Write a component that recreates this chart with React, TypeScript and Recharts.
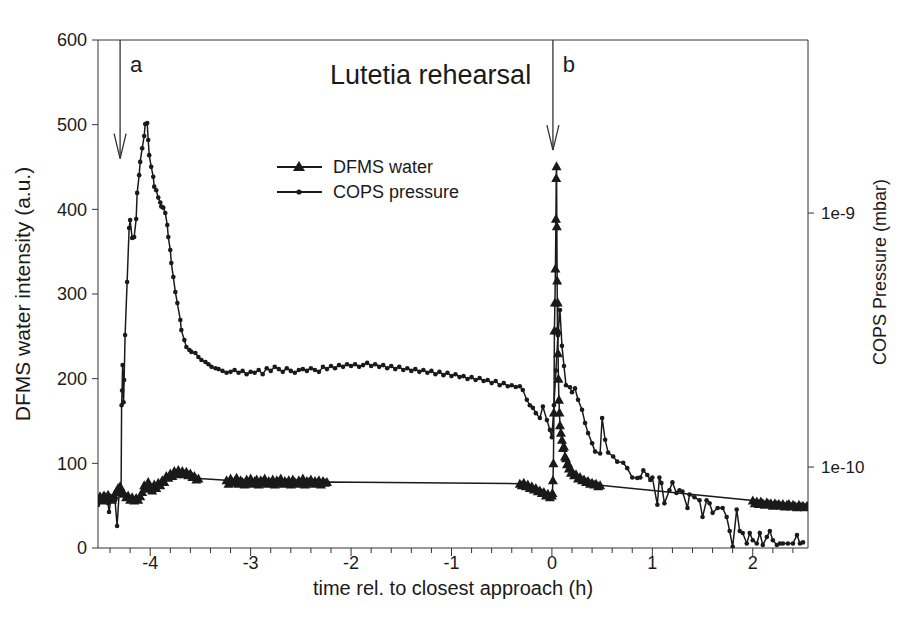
import React from 'react';
import { LineChart, Line, XAxis, YAxis, ReferenceLine } from 'recharts';

// DFMS water signal (left axis, a.u.)
const dfmsTime = [
  -4.52, -4.50, -4.48, -4.46, -4.44, -4.42, -4.40, -4.38, -4.36, -4.34, -4.32, -4.30, -4.28, -4.26, -4.24, -4.22,
  -4.20, -4.18, -4.16, -4.14, -4.12, -4.10, -4.08, -4.06, -4.04, -4.02, -4.00, -3.98, -3.96, -3.94, -3.92, -3.90,
  -3.88, -3.86, -3.84, -3.82, -3.80, -3.78, -3.76, -3.74, -3.72, -3.70, -3.68, -3.66, -3.64, -3.62, -3.60, -3.58,
  -3.56, -3.54, -3.52,
  -3.24, -3.22, -3.20, -3.18, -3.16, -3.14, -3.12, -3.10, -3.08, -3.06, -3.04, -3.02, -3.00, -2.98, -2.96, -2.94,
  -2.92, -2.90, -2.88, -2.86, -2.84, -2.82, -2.80, -2.78, -2.76, -2.74, -2.72, -2.70, -2.68, -2.66, -2.64, -2.62,
  -2.60, -2.58, -2.56, -2.54, -2.52, -2.50, -2.48, -2.46, -2.44, -2.42, -2.40, -2.38, -2.36, -2.34, -2.32, -2.30,
  -2.28, -2.26, -2.24,
  -0.32, -0.30, -0.28, -0.26, -0.24, -0.22, -0.20, -0.18, -0.16, -0.14, -0.12, -0.10, -0.08, -0.06, -0.04, -0.02, 0.00,
  0.005, 0.01, 0.015, 0.02, 0.025, 0.03, 0.035, 0.04, 0.043, 0.046, 0.049, 0.052, 0.055, 0.058, 0.061, 0.065,
  0.07, 0.075, 0.08, 0.09, 0.10, 0.11, 0.12, 0.13, 0.14, 0.15, 0.16, 0.17, 0.18, 0.19, 0.20, 0.22, 0.24, 0.26,
  0.28, 0.30, 0.32, 0.34, 0.36, 0.38, 0.40, 0.42, 0.44, 0.46, 0.48,
  2.00, 2.02, 2.04, 2.06, 2.08, 2.10, 2.12, 2.14, 2.16, 2.18, 2.20, 2.22, 2.24, 2.26, 2.28, 2.30, 2.32, 2.34,
  2.36, 2.38, 2.40, 2.42, 2.44, 2.46, 2.48, 2.50, 2.52, 2.54,
];
const dfmsWater = [
  58, 61, 56, 62, 58, 63, 59, 57, 62, 66, 71, 73, 67, 64, 60, 62, 57, 60, 56, 59, 57, 61,
  66, 74, 70, 78, 73, 68, 75, 71, 77, 74, 80, 78, 85, 83, 88, 85, 91, 87, 92, 88, 91, 87, 90, 86, 88, 84, 85, 81, 82,
  80, 76, 82, 77, 79, 83, 76, 80, 78, 75, 81, 77, 82, 76, 79, 81, 75, 80, 78, 82,
  76, 79, 77, 81, 75, 80, 78, 82, 76, 79, 77, 80, 75, 81, 78, 76, 80, 77, 82, 75,
  79, 78, 81, 76, 79, 77, 80, 75, 79, 77, 78,
  76, 74, 77, 73, 75, 71, 73, 69, 71, 67, 68, 65, 66, 62, 64, 60, 62,
  65, 80, 100, 160, 257, 290, 330, 389, 437, 451, 380, 316, 257, 290, 230, 200,
  175, 160, 145, 136, 128, 118, 120, 108, 106, 99, 100, 94, 95, 89, 90, 86, 87, 82,
  84, 80, 81, 78, 79, 76, 77, 75, 76, 73, 74,
  56, 53, 55, 52, 55, 53, 51, 54, 52, 53, 50, 53, 51, 52, 50, 52, 49, 51,
  52, 49, 51, 50, 48, 51, 49, 50, 48, 50,
];

// COPS pressure (right axis, mbar)
const copsTime = [
  -4.52, -4.50, -4.48, -4.46, -4.44, -4.42, -4.41, -4.39, -4.37, -4.35, -4.33, -4.31, -4.29,
  -4.285, -4.28, -4.275, -4.265, -4.26, -4.25, -4.23, -4.21, -4.20, -4.18, -4.16, -4.14, -4.13, -4.11, -4.10,
  -4.08, -4.06, -4.05, -4.03, -4.02, -4.01, -3.99, -3.97, -3.96, -3.94, -3.92, -3.90, -3.89, -3.87, -3.85,
  -3.83, -3.82, -3.80, -3.79, -3.77, -3.75, -3.73, -3.70, -3.69, -3.66, -3.64, -3.61, -3.59, -3.55, -3.52,
  -3.49, -3.45, -3.42, -3.39, -3.35, -3.32, -3.28, -3.24,
  -3.20, -3.16, -3.12, -3.08, -3.04, -3.00, -2.96, -2.92, -2.88, -2.84, -2.80, -2.76, -2.72, -2.68, -2.64,
  -2.60, -2.56, -2.52, -2.48, -2.44, -2.40, -2.36, -2.32, -2.28, -2.24, -2.20, -2.16, -2.12, -2.08, -2.04,
  -2.00, -1.96, -1.92, -1.88, -1.84, -1.80, -1.76, -1.72, -1.68, -1.64, -1.60, -1.56, -1.52, -1.48, -1.44,
  -1.40, -1.36, -1.32, -1.28, -1.24, -1.20, -1.16, -1.12, -1.08, -1.04, -1.00, -0.96, -0.92, -0.88, -0.84,
  -0.80, -0.76, -0.72, -0.68, -0.64, -0.60, -0.56, -0.52, -0.48, -0.44, -0.40, -0.36, -0.32,
  -0.29, -0.25, -0.22, -0.19, -0.16, -0.12, -0.09, -0.05, -0.02, 0.00,
  0.02, 0.04, 0.06, 0.08, 0.10, 0.12, 0.14, 0.18, 0.20, 0.23, 0.26, 0.30, 0.33, 0.36, 0.40, 0.43, 0.48,
  0.50, 0.53, 0.56, 0.61, 0.65, 0.71, 0.75, 0.80, 0.85, 0.88, 0.91, 0.95, 0.98, 1.00, 1.05, 1.07, 1.09,
  1.12, 1.17, 1.20, 1.24, 1.27, 1.30, 1.35, 1.37, 1.42, 1.47, 1.50, 1.54, 1.57, 1.60, 1.65, 1.70, 1.74,
  1.77, 1.80, 1.84, 1.87, 1.90, 1.94, 1.97, 2.00, 2.04, 2.07, 2.10, 2.14, 2.17, 2.20, 2.24, 2.27, 2.30,
  2.35, 2.40, 2.44, 2.47, 2.50,
];
const copsPressure = [
  7.09e-11, 7.6e-11, 7.4e-11, 7.8e-11, 7.55e-11, 7.2e-11, 6.65e-11, 7.55e-11, 7.7e-11, 7.4e-11, 5.86e-11, 7.8e-11, 7.97e-11,
  1.75e-10, 2.0e-10, 2.52e-10, 1.8e-10, 2.2e-10, 3.31e-10, 5.35e-10, 8.73e-10, 9.38e-10, 7.97e-10, 8.04e-10, 9.47e-10, 1.2e-9, 1.41e-9, 1.59e-9,
  1.8e-9, 2.01e-9, 2.24e-9, 2.26e-9, 1.94e-9, 1.69e-9, 1.52e-9, 1.39e-9, 1.27e-9, 1.23e-9, 1.15e-9, 1.1e-9, 1.06e-9, 1.05e-9, 1.0e-9,
  8.97e-10, 8.04e-10, 7.15e-10, 6.36e-10, 5.6e-10, 4.89e-10, 4.42e-10, 3.79e-10, 3.46e-10, 3.16e-10, 2.97e-10, 2.89e-10, 2.84e-10, 2.81e-10, 2.71e-10,
  2.64e-10, 2.59e-10, 2.54e-10, 2.48e-10, 2.45e-10, 2.43e-10, 2.39e-10, 2.35e-10,
  2.37e-10, 2.41e-10, 2.35e-10, 2.39e-10, 2.32e-10, 2.37e-10, 2.35e-10, 2.41e-10, 2.32e-10, 2.45e-10, 2.39e-10, 2.48e-10, 2.43e-10, 2.37e-10, 2.45e-10,
  2.39e-10, 2.35e-10, 2.41e-10, 2.43e-10, 2.39e-10, 2.45e-10, 2.41e-10, 2.37e-10, 2.48e-10, 2.43e-10, 2.50e-10, 2.45e-10, 2.52e-10, 2.48e-10, 2.54e-10,
  2.50e-10, 2.54e-10, 2.48e-10, 2.52e-10, 2.57e-10, 2.50e-10, 2.54e-10, 2.48e-10, 2.52e-10, 2.45e-10, 2.50e-10, 2.43e-10, 2.48e-10, 2.41e-10, 2.45e-10,
  2.39e-10, 2.43e-10, 2.37e-10, 2.41e-10, 2.35e-10, 2.39e-10, 2.32e-10, 2.37e-10, 2.30e-10, 2.35e-10, 2.28e-10, 2.32e-10, 2.26e-10, 2.28e-10, 2.22e-10,
  2.26e-10, 2.20e-10, 2.24e-10, 2.18e-10, 2.20e-10, 2.14e-10, 2.18e-10, 2.10e-10, 2.14e-10, 2.08e-10, 2.10e-10, 2.065e-10, 2.08e-10,
  2.01e-10, 1.84e-10, 1.75e-10, 1.71e-10, 1.63e-10, 1.56e-10, 1.73e-10, 1.53e-10, 1.40e-10, 1.31e-10,
  1.75e-10, 2.4e-10, 3.3e-10, 4.15e-10, 3.0e-10, 2.5e-10, 2.1e-10, 2.06e-10, 1.97e-10, 2.04e-10, 1.84e-10, 1.68e-10, 1.49e-10, 1.36e-10, 1.24e-10, 1.15e-10, 1.13e-10,
  1.56e-10, 1.28e-10, 1.14e-10, 1.1e-10, 1.05e-10, 1.04e-10, 9.9e-11, 9.1e-11, 9.05e-11, 9.1e-11, 9.7e-11, 9.3e-11, 8.9e-11, 9.1e-11, 7.1e-11, 9.1e-11, 8.65e-11,
  7.2e-11, 8.1e-11, 8.7e-11, 7.9e-11, 8.1e-11, 8.0e-11, 6.9e-11, 7.8e-11, 7.6e-11, 7.4e-11, 6.36e-11, 7.4e-11, 7.2e-11, 6.6e-11, 6.9e-11, 6.9e-11, 6.36e-11,
  5.6e-11, 4.85e-11, 6.8e-11, 5.6e-11, 5.5e-11, 5.0e-11, 5.5e-11, 5.15e-11, 5.0e-11, 5.5e-11, 4.93e-11, 5.3e-11, 5.6e-11, 5.15e-11, 4.93e-11, 5.0e-11, 5.0e-11,
  5.0e-11, 5.0e-11, 5.4e-11, 5.0e-11, 5.05e-11,
];

const majorTicks = [-4, -3, -2, -1, 0, 1, 2];
const bottomTicks = [
  -4.4, -4.2, -4, -3.8, -3.6, -3.4, -3.2, -3, -2.8, -2.6, -2.4, -2.2, -2, -1.8, -1.6, -1.4, -1.2, -1,
  -0.8, -0.6, -0.4, -0.2, 0, 0.2, 0.4, 0.6, 0.8, 1, 1.2, 1.4, 1.6, 1.8, 2, 2.2, 2.4,
];
const waterTicks = [0, 100, 200, 300, 400, 500, 600];
const pressureTicks = [1e-10, 1e-9];

const dfmsData = dfmsTime.map((t, i) => ({ t, v: dfmsWater[i] })).filter((d) => d.v !== undefined);
const copsData = copsTime.map((t, i) => ({ t, v: copsPressure[i] })).filter((d) => d.v !== undefined);

const FONT = '"Liberation Sans", Arial, sans-serif';
const INK = '#1a1a1a';

const Triangle = (props: any) => {
  const { cx, cy, index } = props;
  if (cx == null || cy == null) return <g key={`tri-${index}`} />;
  return <path key={`tri-${index}`} d={`M${cx},${cy - 5} L${cx + 5},${cy + 4} L${cx - 5},${cy + 4} Z`} fill={INK} />;
};

const Dot = (props: any) => {
  const { cx, cy, index } = props;
  if (cx == null || cy == null) return <g key={`dot-${index}`} />;
  return <circle key={`dot-${index}`} cx={cx} cy={cy} r={2.3} fill={INK} />;
};

const BottomTick = (props: any) => {
  const { x, y, payload } = props;
  const v = payload.value;
  const major = Math.abs(v - Math.round(v)) < 1e-6;
  return (
    <g>
      <line x1={x} y1={y} x2={x} y2={y + (major ? 8 : 5)} stroke="#333" strokeWidth={1} />
      {major && (
        <text x={x} y={y + 21} textAnchor="middle" fontSize={18} fill={INK} fontFamily={FONT}>
          {Math.round(v)}
        </text>
      )}
    </g>
  );
};

const arrow = (tag: string) => (props: any) => {
  const { x1, y1, x2, y2 } = props;
  const top = Math.min(y1, y2);
  const tip = Math.max(y1, y2);
  const x = x1;
  return (
    <g>
      <line x1={x} y1={top} x2={x2} y2={tip} stroke="#333" strokeWidth={1.3} />
      <path d={`M${x - 6},${tip - 25} L${x},${tip} L${x + 6},${tip - 25}`} fill="none" stroke="#333" strokeWidth={1.3} />
      <text x={x + 16} y={top + 32} textAnchor="middle" fontSize={22} fill={INK} fontFamily={FONT}>{tag}</text>
    </g>
  );
};

export default function App() {
  return (
    <div style={{ position: 'relative', width: 885, height: 605, fontFamily: FONT }}>
      <LineChart width={885} height={605} margin={{ top: 0, right: 0, bottom: 0, left: 0 }} style={{ fontFamily: FONT }}>
        <XAxis
          xAxisId="bottom"
          dataKey="t"
          type="number"
          domain={[-4.52, 2.55]}
          allowDataOverflow
          ticks={bottomTicks}
          interval={0}
          height={65}
          tickSize={0}
          tickMargin={0}
          tickLine={false}
          tick={<BottomTick />}
          axisLine={{ stroke: '#333' }}
          label={(p: any) => {
            const vb = p.viewBox;
            return (
              <text x={vb.x + vb.width / 2} y={vb.y + 47} textAnchor="middle" fontSize={20} fill={INK} fontFamily={FONT}>
                time rel. to closest approach (h)
              </text>
            );
          }}
        />
        <XAxis
          xAxisId="top"
          orientation="top"
          type="number"
          domain={[-4.52, 2.55]}
          allowDataOverflow
          ticks={majorTicks}
          interval={0}
          height={32}
          tickSize={7}
          tickMargin={8}
          tick={{ fill: INK, fontSize: 18 }}
          stroke="#333"
        />
        <YAxis
          yAxisId="left"
          type="number"
          domain={[0, 600]}
          ticks={waterTicks}
          interval={0}
          width={90}
          tickSize={6}
          tickMargin={5}
          tick={{ fill: INK, fontSize: 18 }}
          stroke="#333"
          label={(p: any) => {
            const vb = p.viewBox;
            const cy = vb.y + vb.height / 2;
            return (
              <text x={vb.x + 14} y={cy} transform={`rotate(-90, ${vb.x + 14}, ${cy})`} textAnchor="middle" dominantBaseline="central" fontSize={21} fill={INK} fontFamily={FONT}>
                DFMS water intensity (a.u.)
              </text>
            );
          }}
        />
        <YAxis
          yAxisId="right"
          orientation="right"
          type="number"
          scale="log"
          domain={[4.8e-11, 4.8e-9]}
          allowDataOverflow
          ticks={pressureTicks}
          interval={0}
          width={85}
          tickSize={6}
          tickMargin={7}
          tick={{ fill: INK, fontSize: 17 }}
          tickFormatter={(v: number) => (v > 5e-10 ? '1e-9' : '1e-10')}
          stroke="#333"
          label={(p: any) => {
            const vb = p.viewBox;
            const cx = vb.x + 72;
            const cy = vb.y + vb.height / 2 - 22;
            return (
              <text x={cx} y={cy} transform={`rotate(-90, ${cx}, ${cy})`} textAnchor="middle" dominantBaseline="central" fontSize={18} fill={INK} fontFamily={FONT}>
                COPS Pressure (mbar)
              </text>
            );
          }}
        />
        <ReferenceLine
          xAxisId="bottom"
          yAxisId="left"
          segment={[{ x: -4.3, y: 600 }, { x: -4.3, y: 460 }]}
          ifOverflow="visible"
          shape={arrow('a')}
        />
        <ReferenceLine
          xAxisId="bottom"
          yAxisId="left"
          segment={[{ x: 0.01, y: 600 }, { x: 0.01, y: 470 }]}
          ifOverflow="visible"
          shape={arrow('b')}
        />
        <Line
          xAxisId="bottom"
          yAxisId="left"
          data={dfmsData}
          dataKey="v"
          type="linear"
          stroke={INK}
          strokeWidth={1.5}
          dot={Triangle}
          activeDot={false}
          isAnimationActive={false}
        />
        <Line
          xAxisId="bottom"
          yAxisId="right"
          data={copsData}
          dataKey="v"
          type="linear"
          stroke={INK}
          strokeWidth={1.5}
          dot={Dot}
          activeDot={false}
          isAnimationActive={false}
        />
      </LineChart>
      <svg width={885} height={605} style={{ position: 'absolute', left: 0, top: 0, pointerEvents: 'none' }}>
        <text x={322} y={76} fontSize={27} fill={INK} fontFamily={FONT}>Lutetia rehearsal</text>
        <line x1={269} y1={159} x2={314} y2={159} stroke={INK} strokeWidth={2} />
        <path d="M291,153 L297,163 L285,163 Z" fill={INK} />
        <text x={325} y={165} fontSize={18} fill={INK} fontFamily={FONT}>DFMS water</text>
        <line x1={269} y1={184} x2={314} y2={184} stroke={INK} strokeWidth={2} />
        <circle cx={291} cy={184} r={2.6} fill={INK} />
        <text x={325} y={190} fontSize={18} fill={INK} fontFamily={FONT}>COPS pressure</text>
      </svg>
    </div>
  );
}
